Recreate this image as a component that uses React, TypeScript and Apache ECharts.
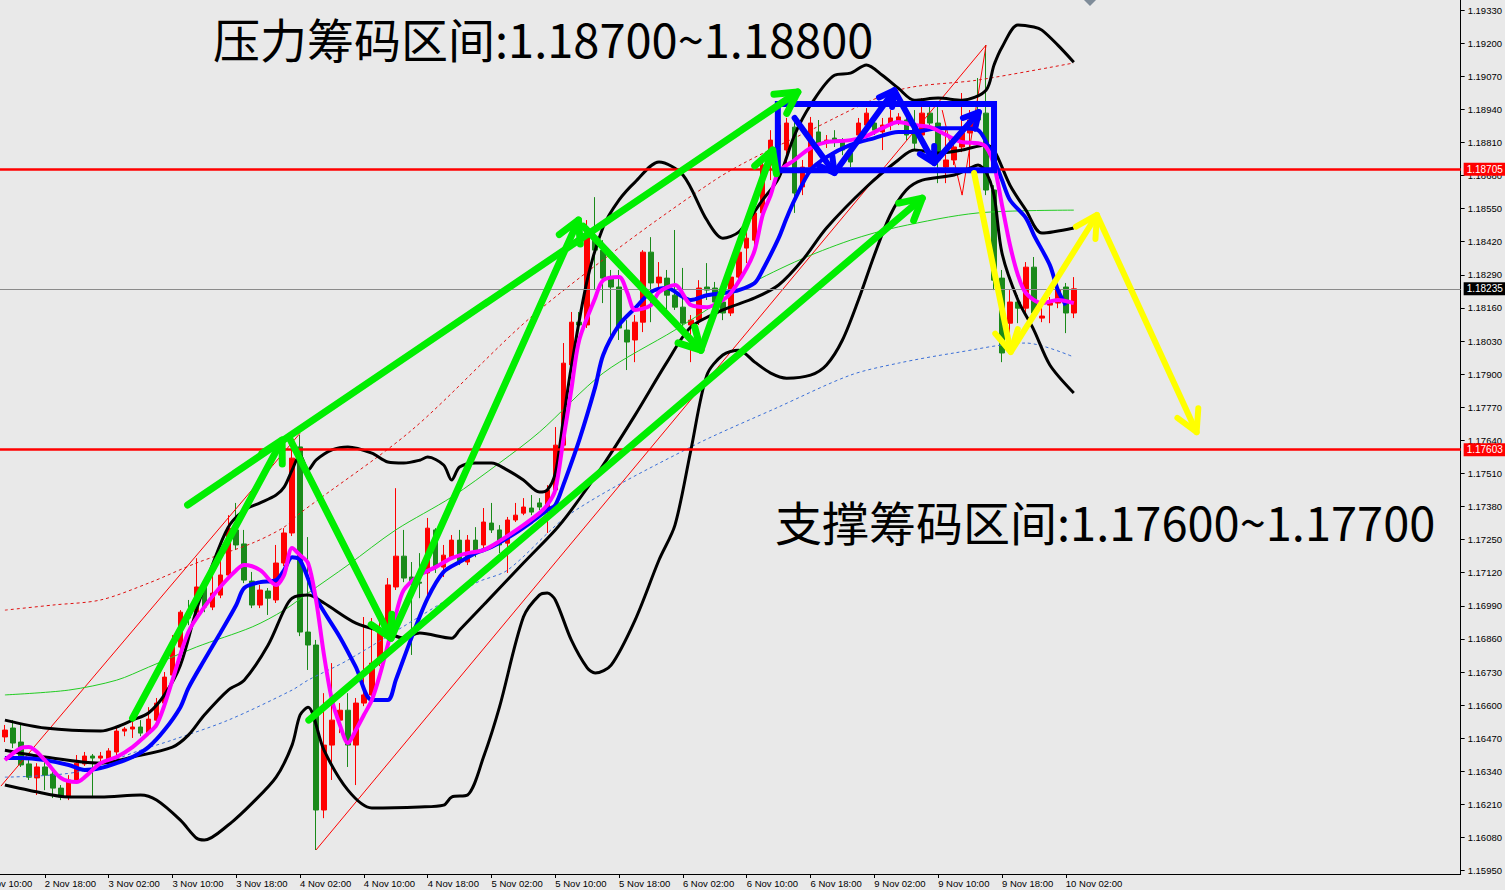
import React, { useEffect, useRef } from 'react';
import * as echarts from 'echarts';

// ---------- categories (hourly bars, weekend skipped) ----------
const DAY_STARTS: [number, number][] = [[2, 10], [3, 0], [4, 0], [5, 0], [6, 0], [9, 0], [10, 0], [11, 0], [12, 0]];
const CATEGORY_COUNT = 186;
const CATEGORIES: string[] = [];
for (const [d, h0] of DAY_STARTS) {
  for (let h = h0; h < 24; h++) {
    if (CATEGORIES.length < CATEGORY_COUNT) CATEGORIES.push(`${d} Nov ${String(h).padStart(2, '0')}:00`);
  }
}
const FIRST_BAR_CATEGORY = 3; // 2 Nov 13:00
const LAST_LABEL_CATEGORY = 136; // 10 Nov 02:00

// ---------- candles: [open, close, low, high] ----------
const BARS: number[][] = [
  [1.16475, 1.16502, 1.16455, 1.16522], [1.16510, 1.16451, 1.16431, 1.16541], [1.16455, 1.16365, 1.16357, 1.16522],
  [1.16369, 1.16317, 1.16306, 1.16384], [1.16314, 1.16357, 1.16247, 1.16372], [1.16357, 1.16325, 1.16266, 1.16396],
  [1.16329, 1.16274, 1.16235, 1.16345], [1.16274, 1.16239, 1.16227, 1.16286], [1.16239, 1.16306, 1.16227, 1.16325],
  [1.16306, 1.16372, 1.16298, 1.16404], [1.16369, 1.16400, 1.16361, 1.16416], [1.16400, 1.16392, 1.16235, 1.16408],
  [1.16392, 1.16400, 1.16376, 1.16416], [1.16384, 1.16420, 1.16365, 1.16431], [1.16416, 1.16498, 1.16404, 1.16510],
  [1.16498, 1.16506, 1.16478, 1.16514], [1.16506, 1.16514, 1.16471, 1.16541], [1.16514, 1.16490, 1.16478, 1.16541],
  [1.16490, 1.16545, 1.16482, 1.16592], [1.16541, 1.16608, 1.16533, 1.16628], [1.16608, 1.16710, 1.16600, 1.16730],
  [1.16718, 1.16828, 1.16698, 1.16875], [1.16828, 1.16965, 1.16816, 1.16973], [1.16965, 1.16942, 1.16914, 1.17013],
  [1.16965, 1.17064, 1.16954, 1.17177], [1.17064, 1.16985, 1.16965, 1.17079], [1.16985, 1.17040, 1.16973, 1.17111],
  [1.17032, 1.17111, 1.17020, 1.17170], [1.17111, 1.17295, 1.17099, 1.17346], [1.17288, 1.17229, 1.17209, 1.17394],
  [1.17233, 1.17091, 1.17079, 1.17288], [1.17087, 1.16993, 1.16981, 1.17123], [1.16993, 1.17052, 1.16981, 1.17072],
  [1.17048, 1.17020, 1.16954, 1.17060], [1.17013, 1.17158, 1.17001, 1.17229], [1.17158, 1.17276, 1.17146, 1.17295],
  [1.17276, 1.17570, 1.17264, 1.17610], [1.17614, 1.16887, 1.16871, 1.17661], [1.16887, 1.16836, 1.16738, 1.17260],
  [1.16836, 1.16188, 1.16031, 1.16856], [1.16188, 1.16443, 1.16156, 1.16647], [1.16443, 1.16541, 1.16306, 1.16765],
  [1.16541, 1.16580, 1.16490, 1.16608], [1.16580, 1.16443, 1.16357, 1.16647], [1.16443, 1.16608, 1.16286, 1.16628],
  [1.16608, 1.16640, 1.16596, 1.16946], [1.16640, 1.16765, 1.16628, 1.16942], [1.16765, 1.16883, 1.16753, 1.16934],
  [1.16895, 1.17072, 1.16883, 1.17099], [1.17064, 1.17185, 1.17052, 1.17452], [1.17185, 1.17099, 1.17083, 1.17288],
  [1.17103, 1.17079, 1.16797, 1.17162], [1.17083, 1.17079, 1.17020, 1.17197], [1.17119, 1.17295, 1.17020, 1.17335],
  [1.17288, 1.17142, 1.17119, 1.17295], [1.17142, 1.17189, 1.17103, 1.17229], [1.17181, 1.17248, 1.17170, 1.17268],
  [1.17248, 1.17162, 1.17150, 1.17288], [1.17162, 1.17248, 1.17150, 1.17268], [1.17248, 1.17201, 1.17181, 1.17299],
  [1.17229, 1.17319, 1.17217, 1.17374], [1.17315, 1.17288, 1.17276, 1.17394], [1.17288, 1.17229, 1.17197, 1.17307],
  [1.17236, 1.17327, 1.17119, 1.17339], [1.17327, 1.17346, 1.17319, 1.17394], [1.17354, 1.17378, 1.17346, 1.17413],
  [1.17374, 1.17358, 1.17346, 1.17425], [1.17394, 1.17378, 1.17366, 1.17413], [1.17366, 1.17445, 1.17276, 1.17464],
  [1.17445, 1.17621, 1.17433, 1.17692], [1.17621, 1.17943, 1.17610, 1.18022], [1.17936, 1.18104, 1.17924, 1.18144],
  [1.18104, 1.18093, 1.18073, 1.18144], [1.18093, 1.18438, 1.18081, 1.18505], [1.18426, 1.18387, 1.18230, 1.18595],
  [1.18387, 1.18277, 1.18179, 1.18426], [1.18277, 1.18242, 1.18034, 1.18309], [1.18242, 1.18081, 1.18034, 1.18309],
  [1.18073, 1.18026, 1.17916, 1.18112], [1.18034, 1.18104, 1.17947, 1.18132], [1.18104, 1.18379, 1.18065, 1.18387],
  [1.18379, 1.18258, 1.18104, 1.18438], [1.18258, 1.18281, 1.18230, 1.18340], [1.18277, 1.18210, 1.18120, 1.18309],
  [1.18210, 1.18163, 1.18152, 1.18466], [1.18163, 1.18100, 1.18085, 1.18317], [1.18093, 1.18112, 1.17947, 1.18132],
  [1.18112, 1.18238, 1.18093, 1.18269], [1.18242, 1.18230, 1.18191, 1.18336], [1.18238, 1.18183, 1.18159, 1.18262],
  [1.18183, 1.18140, 1.18112, 1.18199], [1.18140, 1.18281, 1.18128, 1.18301], [1.18281, 1.18379, 1.18269, 1.18407],
  [1.18395, 1.18434, 1.18336, 1.18466], [1.18426, 1.18533, 1.18407, 1.18552], [1.18533, 1.18721, 1.18521, 1.18760],
  [1.18721, 1.18819, 1.18662, 1.18858], [1.18800, 1.18878, 1.18780, 1.18917], [1.18780, 1.18886, 1.18721, 1.18906],
  [1.18870, 1.18611, 1.18533, 1.18906], [1.18635, 1.18713, 1.18603, 1.18741], [1.18713, 1.18886, 1.18701, 1.18910],
  [1.18851, 1.18807, 1.18788, 1.18898], [1.18807, 1.18819, 1.18788, 1.18839], [1.18827, 1.18811, 1.18792, 1.18858],
  [1.18811, 1.18780, 1.18760, 1.18827], [1.18768, 1.18733, 1.18713, 1.18788], [1.18839, 1.18886, 1.18819, 1.18906],
  [1.18878, 1.18925, 1.18866, 1.18945], [1.18886, 1.18858, 1.18839, 1.18917], [1.18851, 1.18878, 1.18780, 1.18906],
  [1.18878, 1.18906, 1.18858, 1.18937], [1.18890, 1.18910, 1.18878, 1.18925], [1.18898, 1.18839, 1.18819, 1.18917],
  [1.18878, 1.18807, 1.18780, 1.18937], [1.18839, 1.18925, 1.18819, 1.18984], [1.18925, 1.18886, 1.18866, 1.18949],
  [1.18886, 1.18741, 1.18650, 1.18965], [1.18713, 1.18741, 1.18650, 1.18858], [1.18741, 1.18792, 1.18721, 1.18831],
  [1.18792, 1.18847, 1.18772, 1.19004], [1.18847, 1.18898, 1.18701, 1.18937], [1.18937, 1.18898, 1.18866, 1.19063],
  [1.18925, 1.18623, 1.18603, 1.19192], [1.18623, 1.18269, 1.18230, 1.18642], [1.18277, 1.17983, 1.17947, 1.18309],
  [1.18100, 1.18183, 1.18061, 1.18230], [1.18183, 1.18159, 1.18100, 1.18210], [1.18159, 1.18320, 1.18132, 1.18340],
  [1.18320, 1.18140, 1.18120, 1.18360], [1.18120, 1.18128, 1.18104, 1.18179], [1.18171, 1.18179, 1.18100, 1.18203],
  [1.18179, 1.18230, 1.18159, 1.18250], [1.18242, 1.18140, 1.18061, 1.18258], [1.18140, 1.18235, 1.18120, 1.18281],
];

// ---------- indicator lines: [bar index, price] ----------
const BB_UPPER = [[0, 1.16541], [5, 1.16510], [12, 1.16498], [14, 1.16514], [16, 1.16541], [18, 1.16569], [20, 1.16640], [22, 1.16757], [24, 1.16973], [26, 1.17150], [28, 1.17299], [30, 1.17366], [32, 1.17394], [34, 1.17425], [35, 1.17456], [36, 1.17523], [37, 1.17582], [38, 1.17523], [39, 1.17562], [41, 1.17602], [43, 1.17614], [46, 1.17590], [48, 1.17555], [50, 1.17551], [52, 1.17562], [53, 1.17574], [55, 1.17543], [56, 1.17484], [57, 1.17535], [59, 1.17551], [61, 1.17551], [63, 1.17523], [65, 1.17484], [67, 1.17437], [68, 1.17445], [69, 1.17511], [70, 1.17720], [71, 1.17928], [73, 1.18269], [75, 1.18478], [77, 1.18584], [79, 1.18654], [82, 1.18733], [85, 1.18682], [88, 1.18505], [90, 1.18434], [92, 1.18458], [95, 1.18584], [97, 1.18670], [99, 1.18839], [101, 1.18957], [104, 1.19074], [106, 1.19082], [108, 1.19114], [110, 1.19074], [112, 1.19023], [114, 1.18976], [117, 1.18984], [120, 1.18976], [123, 1.19015], [124, 1.19114], [125, 1.19184], [127, 1.19271], [129, 1.19263], [130, 1.19251], [132, 1.19192], [134, 1.19125]];
const BB_MIDDLE = [[0, 1.16423], [5, 1.16396], [12, 1.16372], [16, 1.16396], [21, 1.16435], [23, 1.16482], [25, 1.16561], [28, 1.16659], [30, 1.16698], [33, 1.16836], [35, 1.16973], [36, 1.17020], [38, 1.17032], [40, 1.17001], [44, 1.16922], [48, 1.16883], [50, 1.16863], [52, 1.16883], [56, 1.16863], [57, 1.16895], [60, 1.16993], [65, 1.17158], [69, 1.17288], [71, 1.17366], [75, 1.17543], [79, 1.17739], [83, 1.17947], [86, 1.18085], [90, 1.18152], [94, 1.18199], [97, 1.18250], [100, 1.18348], [103, 1.18474], [108, 1.18635], [112, 1.18741], [114, 1.18780], [117, 1.18768], [120, 1.18780], [123, 1.18800], [124, 1.18780], [126, 1.18642], [128, 1.18544], [130, 1.18454], [134, 1.18474]];
const BB_LOWER = [[0, 1.16286], [3, 1.16266], [8, 1.16239], [12, 1.16239], [17, 1.16247], [19, 1.16227], [22, 1.16148], [24, 1.16078], [25, 1.16070], [28, 1.16129], [31, 1.16215], [34, 1.16317], [36, 1.16443], [37, 1.16561], [38, 1.16592], [40, 1.16423], [43, 1.16266], [46, 1.16196], [52, 1.16200], [55, 1.16207], [56, 1.16239], [58, 1.16247], [60, 1.16396], [62, 1.16592], [65, 1.16946], [67, 1.17032], [68, 1.17040], [69, 1.17013], [71, 1.16856], [73, 1.16746], [74, 1.16726], [76, 1.16757], [79, 1.16934], [82, 1.17170], [84, 1.17307], [86, 1.17602], [88, 1.17896], [90, 1.17975], [92, 1.17994], [94, 1.17947], [96, 1.17904], [98, 1.17884], [101, 1.17896], [103, 1.17936], [105, 1.18034], [107, 1.18191], [109, 1.18368], [111, 1.18525], [113, 1.18623], [115, 1.18662], [119, 1.18682], [121, 1.18709], [122, 1.18721], [123, 1.18694], [124, 1.18603], [125, 1.18375], [127, 1.18191], [129, 1.18073], [131, 1.17936], [134, 1.17826]];
const MA_FAST = [[0, 1.16384], [2, 1.16431], [3, 1.16435], [5, 1.16384], [7, 1.16314], [9, 1.16298], [10, 1.16317], [12, 1.16372], [14, 1.16396], [16, 1.16435], [18, 1.16490], [19, 1.16522], [20, 1.16600], [21, 1.16698], [23, 1.16887], [25, 1.16985], [27, 1.17064], [29, 1.17130], [30, 1.17150], [32, 1.17130], [34, 1.17072], [35, 1.17111], [36, 1.17217], [37, 1.17189], [38, 1.17158], [39, 1.17013], [40, 1.16797], [41, 1.16620], [42, 1.16522], [43, 1.16451], [44, 1.16502], [45, 1.16561], [46, 1.16620], [47, 1.16718], [48, 1.16836], [49, 1.16954], [50, 1.17052], [52, 1.17111], [54, 1.17142], [56, 1.17177], [58, 1.17197], [60, 1.17209], [62, 1.17244], [65, 1.17307], [67, 1.17354], [68, 1.17386], [69, 1.17445], [70, 1.17641], [71, 1.17837], [72, 1.18034], [74, 1.18199], [75, 1.18269], [77, 1.18281], [78, 1.18222], [79, 1.18152], [81, 1.18171], [82, 1.18222], [84, 1.18250], [86, 1.18171], [88, 1.18163], [90, 1.18191], [91, 1.18218], [93, 1.18317], [94, 1.18387], [95, 1.18525], [96, 1.18603], [97, 1.18694], [99, 1.18741], [101, 1.18788], [103, 1.18811], [106, 1.18819], [108, 1.18835], [110, 1.18866], [112, 1.18890], [114, 1.18878], [116, 1.18870], [118, 1.18839], [120, 1.18811], [122, 1.18807], [123, 1.18792], [124, 1.18721], [125, 1.18564], [126, 1.18407], [127, 1.18289], [128, 1.18218], [130, 1.18179], [132, 1.18191], [134, 1.18179]];
const MA_MID = [[0, 1.16392], [2, 1.16392], [5, 1.16384], [8, 1.16365], [10, 1.16345], [12, 1.16353], [14, 1.16372], [16, 1.16396], [18, 1.16435], [20, 1.16502], [22, 1.16592], [23, 1.16667], [25, 1.16777], [27, 1.16883], [29, 1.16993], [30, 1.17060], [32, 1.17083], [34, 1.17091], [35, 1.17130], [36, 1.17181], [37, 1.17170], [39, 1.17020], [42, 1.16867], [44, 1.16749], [46, 1.16620], [48, 1.16620], [49, 1.16698], [51, 1.16867], [53, 1.17020], [55, 1.17123], [57, 1.17162], [59, 1.17197], [61, 1.17221], [64, 1.17276], [66, 1.17319], [68, 1.17366], [69, 1.17386], [70, 1.17464], [72, 1.17641], [74, 1.17849], [75, 1.17975], [77, 1.18093], [79, 1.18159], [81, 1.18222], [83, 1.18238], [85, 1.18203], [86, 1.18191], [88, 1.18210], [90, 1.18218], [92, 1.18230], [94, 1.18258], [95, 1.18309], [97, 1.18434], [98, 1.18513], [99, 1.18584], [101, 1.18701], [103, 1.18752], [106, 1.18800], [109, 1.18827], [112, 1.18851], [114, 1.18851], [117, 1.18866], [120, 1.18866], [122, 1.18858], [124, 1.18741], [125, 1.18662], [126, 1.18584], [128, 1.18513], [129, 1.18446], [131, 1.18328], [132, 1.18230], [133, 1.18171]];
const MA_SLOW = [[0, 1.16640], [8, 1.16659], [14, 1.16698], [18, 1.16749], [24, 1.16828], [31, 1.16907], [35, 1.16973], [38, 1.17040], [43, 1.17150], [49, 1.17288], [56, 1.17417], [62, 1.17551], [67, 1.17672], [75, 1.17904], [84, 1.18073], [92, 1.18230], [99, 1.18340], [106, 1.18426], [112, 1.18478], [122, 1.18533], [134, 1.18544]];
const ENVELOPE_UP = [[0, 1.16973], [6, 1.16993], [12, 1.17013], [18, 1.17079], [24, 1.17158], [31, 1.17236], [35, 1.17299], [37, 1.17354], [51, 1.17680], [67, 1.18152], [89, 1.18662], [101, 1.18858], [112, 1.19015], [122, 1.19055], [134, 1.19122]];
const MA_LONG = [[0, 1.16317], [9, 1.16337], [17, 1.16423], [21, 1.16463], [28, 1.16541], [36, 1.16659], [38, 1.16698], [43, 1.16777], [59, 1.17079], [63, 1.17130], [71, 1.17354], [86, 1.17614], [97, 1.17771], [106, 1.17896], [112, 1.17943], [119, 1.17983], [128, 1.18022], [134, 1.17967]];
const TREND_1 = [[-0.5, 1.16282], [37, 1.17668]];
const TREND_2 = [[39, 1.16031], [123, 1.19192]];
const ZIGZAG = [[117.5, 1.18937], [120, 1.18603], [123, 1.19192]];

// ---------- levels ----------
const RESIST_LEVEL = 1.18705;
const SUPPORT_LEVEL = 1.17603;
const LAST_PRICE = 1.18235;
const Y_TICKS = [1.1933, 1.192, 1.1907, 1.1894, 1.1881, 1.1868, 1.1855, 1.1842, 1.1829, 1.1816, 1.1803, 1.179, 1.1777, 1.1764, 1.1751, 1.1738, 1.1725, 1.1712, 1.1699, 1.1686, 1.1673, 1.166, 1.1647, 1.1634, 1.1621, 1.1608, 1.1595];

// ---------- hand-drawn annotations: [bar index, price] ----------
const GREEN_ARROWS = [
  [[22.9, 1.17386], [99.4, 1.19008]],
  [[16, 1.16549], [34.75, 1.17641]],
  [[35.6, 1.17653], [48.4, 1.16863]],
  [[48.4, 1.16863], [71.9, 1.18505]],
  [[72.5, 1.18481], [87.25, 1.17994]],
  [[87.25, 1.17994], [96.25, 1.18780]],
  [[38.1, 1.16541], [115, 1.18591]],
];
const BLUE_ZIGZAG = [[99, 1.18906], [104, 1.18690], [111.5, 1.19015], [116.5, 1.18729], [122.1, 1.18929]];
const BLUE_BOX = [[96.9, 1.18961], [124, 1.18961], [124, 1.18701], [96.9, 1.18701], [96.9, 1.18961]];
const YELLOW_ZIGZAG = [[121.5, 1.18690], [126.1, 1.17987], [136.9, 1.18525], [149.4, 1.17672]];

const TITLE_RESIST = '压力筹码区间:1.18700~1.18800';
const TITLE_SUPPORT = '支撑筹码区间:1.17600~1.17700';

const ARROWS = [
  ...GREEN_ARROWS.map((pts) => ({ pts, color: '#00EE00', width: 7, head: 24, heads: [pts.length - 1] })),
  { pts: BLUE_ZIGZAG, color: '#0000FF', width: 6, head: 17, heads: [1, 2, 3, 4] },
  { pts: YELLOW_ZIGZAG, color: '#FFFF00', width: 6, head: 24, heads: [1, 2, 3] },
];

const SHIFT = 23; // chart div starts this many px left of the page edge
const AX_FONT = 'Liberation Sans';
const showTick = (i: number) => i <= LAST_LABEL_CATEGORY && i % 8 === 0;

function lineSeries(data: number[][], color: string, width: number, extra: any = {}) {
  return {
    type: 'line', xAxisIndex: 1, yAxisIndex: 0, data, showSymbol: false, symbol: 'none', silent: true,
    lineStyle: { color, width, ...(extra.lineStyle || {}) }, smooth: extra.smooth ?? 0.3, z: extra.z ?? 3,
    ...(extra.markLine ? { markLine: extra.markLine } : {}),
  };
}

export default function App() {
  const ref = useRef<HTMLDivElement>(null);
  useEffect(() => {
    if (!ref.current) return;
    const chart = echarts.init(ref.current, null, { renderer: 'svg' });
    const candleData = BARS.map((b, k) => [CATEGORIES[k + FIRST_BAR_CATEGORY], b[0], b[1], b[2], b[3]]);
    const mlLabel = (v: number, bg: string) => ({
      show: true, position: 'end', distance: 3, formatter: v.toFixed(5), color: '#fff', backgroundColor: bg,
      padding: [2, 3, 1, 3], fontSize: 10, fontFamily: AX_FONT,
    });
    const levelLines = {
      silent: true, symbol: ['none', 'none'], animation: false, z: 4, precision: 5,
      data: [
        { yAxis: LAST_PRICE, lineStyle: { color: '#8A8A8A', width: 1, type: 'solid' }, label: mlLabel(LAST_PRICE, '#000') },
        { yAxis: RESIST_LEVEL, lineStyle: { color: '#FF0000', width: 2.5, type: 'solid' }, label: mlLabel(RESIST_LEVEL, '#FF0000') },
        { yAxis: SUPPORT_LEVEL, lineStyle: { color: '#FF0000', width: 2.5, type: 'solid' }, label: mlLabel(SUPPORT_LEVEL, '#FF0000') },
      ],
    };
    const option: any = {
      animation: false,
      backgroundColor: '#E9E9E9',
      grid: { left: 0, top: 0, width: 1485, height: 874, containLabel: false },
      xAxis: [
        {
          type: 'category', data: CATEGORIES, boundaryGap: true,
          axisLine: { show: true, onZero: false, lineStyle: { color: '#000', width: 1 } },
          axisTick: { show: true, alignWithLabel: true, interval: (i: number) => showTick(i), length: 4, lineStyle: { color: '#000' } },
          axisLabel: { interval: (i: number) => showTick(i), align: 'left', color: '#000', fontSize: 9.5, fontFamily: AX_FONT, margin: 4 },
          splitLine: { show: false },
        },
        { type: 'value', min: -3.5, max: CATEGORY_COUNT - 3.5, show: false },
      ],
      yAxis: {
        type: 'value', position: 'right', min: 1.159367, max: 1.193693, scale: true,
        splitLine: { show: false },
        axisLine: { show: true, onZero: false, lineStyle: { color: '#000', width: 1 } },
        axisTick: { show: true, length: 4, customValues: Y_TICKS, lineStyle: { color: '#000' } },
        axisLabel: { customValues: Y_TICKS, formatter: (v: number) => v.toFixed(5), color: '#000', fontSize: 9.5, fontFamily: AX_FONT, margin: 7 },
      },
      series: [
        {
          type: 'candlestick', xAxisIndex: 0, yAxisIndex: 0, data: candleData,
          encode: { x: 0, y: [1, 2, 3, 4] }, barWidth: 5, silent: true, z: 2,
          itemStyle: { color: '#FF0000', color0: '#1A8A1A', borderColor: '#FF0000', borderColor0: '#1A8A1A', borderWidth: 1 },
        },
        lineSeries(TREND_1, '#FF0000', 1, { smooth: false, markLine: levelLines }),
        lineSeries(TREND_2, '#FF0000', 1, { smooth: false }),
        lineSeries(ZIGZAG, '#FF0000', 1, { smooth: false }),
        lineSeries(ENVELOPE_UP, '#E01010', 1, { lineStyle: { type: [3, 3] } }),
        lineSeries(MA_LONG, '#3A6FD8', 1, { lineStyle: { type: [3, 3] } }),
        lineSeries(MA_SLOW, '#22CC22', 1),
        lineSeries(BB_UPPER, '#000000', 3),
        lineSeries(BB_MIDDLE, '#000000', 3),
        lineSeries(BB_LOWER, '#000000', 3),
        lineSeries(MA_MID, '#0000FF', 4, { z: 4 }),
        lineSeries(MA_FAST, '#FF00FF', 4, { z: 4 }),
        {
          type: 'line', xAxisIndex: 1, yAxisIndex: 0, data: BLUE_BOX, showSymbol: false, symbol: 'none', silent: true, smooth: false,
          lineStyle: { color: '#0000FF', width: 6, join: 'miter', cap: 'square' }, z: 9,
        },
        {
          type: 'custom', xAxisIndex: 1, yAxisIndex: 0, silent: true, z: 10, clip: false,
          data: ARROWS.map((a) => a.pts[0]),
          encode: { x: 0, y: 1 },
          renderItem: (params: any, api: any) => {
            const a = ARROWS[params.dataIndex];
            const px = a.pts.map((p) => api.coord(p));
            const style = { stroke: a.color, lineWidth: a.width, fill: null, lineCap: 'round', lineJoin: 'round' };
            const children: any[] = [{ type: 'polyline', shape: { points: px }, style }];
            a.heads.forEach((i) => {
              const [tx, ty] = px[i];
              const [sx, sy] = px[i - 1];
              const ang = Math.atan2(ty - sy, tx - sx);
              const arms = [ang + Math.PI - 0.5, ang + Math.PI + 0.5].map((t) => [tx + a.head * Math.cos(t), ty + a.head * Math.sin(t)]);
              children.push({ type: 'polyline', shape: { points: [arms[0], [tx, ty], arms[1]] }, style });
            });
            return { type: 'group', children };
          },
        },
      ],
      graphic: [
        { type: 'polygon', shape: { points: [[1084 + SHIFT, 0], [1096 + SHIFT, 0], [1090 + SHIFT, 6]] }, style: { fill: '#7F8C99' }, silent: true },
        { type: 'text', x: 213 + SHIFT, y: 37, style: { text: TITLE_RESIST, fill: '#000', font: '47px "Noto Sans CJK SC"', verticalAlign: 'middle', align: 'left' }, silent: true, z: 20 },
        { type: 'text', x: 775 + SHIFT, y: 520, style: { text: TITLE_SUPPORT, fill: '#000', font: '47px "Noto Sans CJK SC"', verticalAlign: 'middle', align: 'left' }, silent: true, z: 20 },
      ],
    };
    chart.setOption(option);
    return () => chart.dispose();
  }, []);
  return <div ref={ref} style={{ position: 'fixed', left: -SHIFT, top: 0, width: 1505 + SHIFT, height: 890 }} />;
}
